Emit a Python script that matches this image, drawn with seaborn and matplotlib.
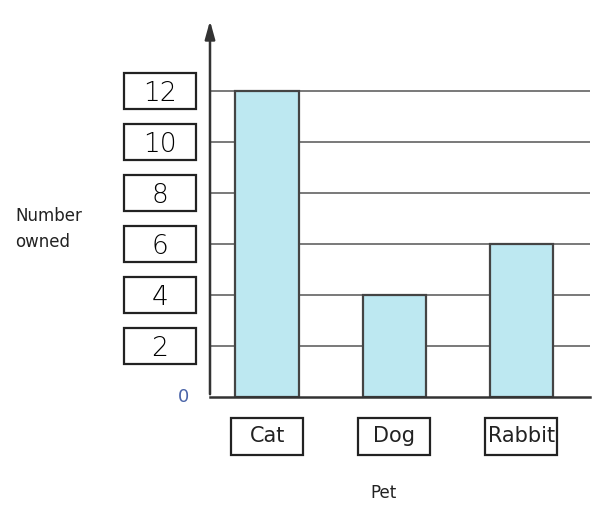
import matplotlib
matplotlib.use("Agg")
import matplotlib.pyplot as plt
import matplotlib.transforms as mtransforms
from matplotlib.patches import Rectangle
import seaborn as sns
import pandas as pd

pets = ["Cat", "Dog", "Rabbit"]
counts = [12, 4, 6]
y_ticks = [2, 4, 6, 8, 10, 12]
y_tick_labels = ["2", "4", "6", "8", "10", "12"]
x_title = "Pet"
y_title = "Number\nowned"

df = pd.DataFrame({"Pet": pets, "Number owned": counts})

sns.set_theme(style="white")
plt.rcParams["font.family"] = ["DejaVu Sans"]

fig = plt.figure(figsize=(5.97, 5.14), dpi=100)
ax = fig.add_axes([210 / 597, 1 - 397 / 514, 380 / 597, 379 / 514])

# gridlines behind bars
for v in y_ticks:
    ax.axhline(v, color="#555555", lw=1.1, zorder=0)

sns.barplot(data=df, x="Pet", y="Number owned", ax=ax, color="#bde8f1",
            width=0.5, edgecolor="#444444", linewidth=1.6, zorder=2,
            saturation=1)

ax.set_xlim(-0.45, 2.54)
ax.set_ylim(0, 14.86)

for s in ["top", "right"]:
    ax.spines[s].set_visible(False)
ax.spines["left"].set_visible(False)
ax.spines["bottom"].set_color("#333333")
ax.spines["bottom"].set_linewidth(1.8)

# arrowed y axis
ax.annotate("", xy=(0, 1.0), xytext=(0, 0), xycoords="axes fraction",
            arrowprops=dict(arrowstyle="-|>,head_length=0.9,head_width=0.25",
                            color="#333333", lw=1.8), zorder=5)

# y tick labels in boxes
ax.set_yticks(y_ticks)
ax.set_yticklabels(y_tick_labels, fontsize=19, color="#000000", ha="center",
                   fontweight="light")
ax.tick_params(axis="y", length=0, pad=36)
trans_y = mtransforms.blended_transform_factory(ax.transAxes, ax.transData)
for v in y_ticks:
    ax.add_patch(Rectangle((-0.226, v - 0.71), 0.19, 1.42, transform=trans_y,
                           fill=False, edgecolor="#222222", lw=1.6,
                           clip_on=False))
# zero label
ax.text(-0.07, 0, "0", transform=trans_y, color="#4a64a8", fontsize=13,
        ha="center", va="center")

# x tick labels in boxes
ax.set_xticks(range(len(pets)))
ax.set_xticklabels(pets, fontsize=15, color="#222222", va="center")
ax.tick_params(axis="x", length=0, pad=28)
trans_x = mtransforms.blended_transform_factory(ax.transData, ax.transAxes)
for i in range(len(pets)):
    ax.add_patch(Rectangle((i - 0.283, -0.153), 0.567, 0.098,
                           transform=trans_x, fill=False,
                           edgecolor="#222222", lw=1.6, clip_on=False))

ax.set_xlabel("")
ax.set_ylabel("")
fig.text(383 / 597, 1 - 493 / 514, x_title, fontsize=12, ha="center",
         va="center", color="#222222")
fig.text(15 / 597, 1 - 229 / 514, y_title, fontsize=12, ha="left",
         va="center", color="#222222", linespacing=1.6)

fig.savefig("out.png", dpi=100)
